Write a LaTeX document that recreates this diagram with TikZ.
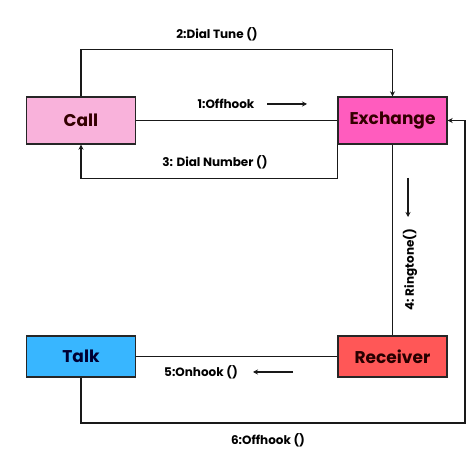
\documentclass[tikz,border=0pt]{standalone}
\usepackage{fontspec}
\setmainfont{Poppins}
\usetikzlibrary{positioning,arrows.meta}
\definecolor{callPink}{HTML}{F9B2DB}
\definecolor{exchPink}{HTML}{FF5CBE}
\definecolor{talkBlue}{HTML}{38B6FF}
\definecolor{recvRed}{HTML}{FF5757}
\tikzset{
    objBox/.style={draw=black!85, line width=1.4pt, minimum width=109pt, font=\fontsize{17}{20}\selectfont\bfseries, inner sep=0pt},
    msgLabel/.style={font=\fontsize{12}{14}\selectfont\bfseries},
    link/.style={line width=1.4pt, black!90},
    tip/.style={-{Stealth[length=5pt,width=5pt]}}
}
\begin{document}
\begin{tikzpicture}[x=1pt,y=1pt]
	\useasboundingbox[fill=white] (0,0) rectangle (474,474);
	\node[objBox, fill=callPink, minimum height=47pt, text=black!80!red] (Call) at(81,353.5) {Call};
	\node[objBox, fill=exchPink, minimum height=47pt, text=black!80!red] (Exchange) at(392.5,353.5) {Exchange};
	\node[objBox, fill=talkBlue, minimum height=41pt, text=black!80!blue] (Talk) at(81,117.5) {Talk};
	\node[objBox, fill=recvRed, minimum height=41pt, text=black!85!red] (Receiver) at(392.5,117.5) {Receiver};
	% connectors
	\draw[link] (Call.east) -- (Exchange.west);
	\draw[link, tip] (Call.north) -- ++(0,47) -| (Exchange.north);
	\draw[link, tip] (Exchange.south west) -- ++(0,-34) -| (Call.south);
	\draw[link] (Exchange.south) -- (Receiver.north);
	\draw[link] (Receiver.west) -- (Talk.east);
	\coordinate (cornerSix) at (465,51);
	\draw[link, tip] (Talk.south) |- (cornerSix) |- (Exchange.east);
	% labels
	\node[msgLabel] (lblOne) at(226,370) {1:Offhook};
	\node[msgLabel] (lblTwo) at(217,440) {2:Dial Tune ()};
	\node[msgLabel] (lblThree) at(215,312) {3: Dial Number ()};
	\node[msgLabel, rotate=90] (lblFour) at(410,204) {4: Ringtone()};
	\node[msgLabel] (lblFive) at(201,102) {5:Onhook ()};
	\node[msgLabel] (lblSix) at(268,34) {6:Offhook ()};
	% direction arrows
	\draw[link, line width=1.2pt, tip] (267,370) -- (307,370);
	\draw[link, line width=1.2pt, tip] (408,296) -- (408,257);
	\draw[link, line width=1.2pt, tip] (293,102) -- (253,102);
\end{tikzpicture}
\end{document}
